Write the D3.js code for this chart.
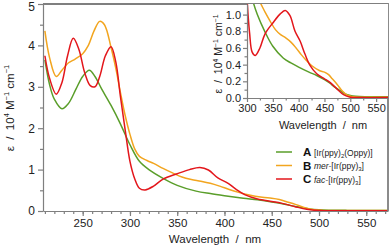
<!DOCTYPE html>
<html>
<head>
<meta charset="utf-8">
<script src="https://cdn.jsdelivr.net/npm/d3@7"></script>
<style>
  body { margin: 0; background: #fff; }
  svg { display: block; font-family: "Liberation Sans", Arial, sans-serif; }
  .frame { stroke: #7f7f7f; stroke-width: 1.8; fill: none; }
  .axis path, .axis line { stroke: #7f7f7f; stroke-width: 1.2; }
  .axis text { fill: #222; font-size: 11px; font-family: "Liberation Sans", Arial, sans-serif; }
  .curve { fill: none; stroke-width: 1.5; }
</style>
</head>
<body>
<script>
// wavelengths (nm) and molar absorptivity (10^4 M^-1 cm^-1)
var wlA = [210, 215, 220, 228, 235, 243, 250, 257, 263, 270, 280, 290, 300, 310, 320, 335, 350, 370, 385, 400, 420, 435, 450, 460, 470, 480, 490, 500, 510, 530, 573];
var epsA = [3.65, 3.05, 2.7, 2.47, 2.6, 2.95, 3.25, 3.4, 3.25, 2.95, 2.55, 2.1, 1.6, 1.2, 1.0, 0.79, 0.62, 0.48, 0.42, 0.37, 0.31, 0.27, 0.22, 0.18, 0.13, 0.09, 0.05, 0.03, 0.02, 0.015, 0.015];

var wlB = [210, 215, 222, 228, 235, 242, 250, 256, 262, 268, 273, 280, 285, 290, 295, 300, 305, 310, 318, 325, 335, 345, 355, 365, 375, 385, 395, 405, 415, 425, 440, 450, 458, 465, 475, 485, 495, 505, 520, 573];
var epsB = [4.35, 3.7, 3.25, 3.4, 3.58, 3.67, 3.8, 4.0, 4.35, 4.58, 4.5, 3.95, 3.45, 2.85, 2.3, 1.85, 1.5, 1.32, 1.22, 1.15, 1.03, 0.92, 0.82, 0.76, 0.72, 0.67, 0.6, 0.52, 0.45, 0.39, 0.33, 0.31, 0.28, 0.23, 0.16, 0.08, 0.03, 0.015, 0.01, 0.01];

var wlC = [210, 215, 222, 228, 234, 240, 246, 252, 258, 263, 268, 274, 280, 285, 290, 295, 300, 305, 310, 316, 325, 335, 350, 363, 374, 383, 393, 403, 412, 422, 435, 450, 460, 474, 487, 500, 520, 573];
var epsC = [3.75, 3.2, 2.82, 3.1, 3.75, 4.17, 3.9, 3.35, 3.03, 3.0, 3.25, 3.75, 3.97, 3.6, 2.75, 1.95, 1.2, 0.78, 0.55, 0.51, 0.6, 0.77, 0.9, 1.0, 1.05, 0.99, 0.8, 0.68, 0.53, 0.39, 0.29, 0.23, 0.19, 0.11, 0.04, 0.01, 0.005, 0.005];

var seriesKeys = ["A", "B", "C"];
var seriesNames = ["[Ir(ppy)2(Oppy)]", "mer-[Ir(ppy)3]", "fac-[Ir(ppy)3]"];
var seriesColors = ["#5a9e2a", "#f2a51f", "#e3161b"];

var mainXTicks = [250, 300, 350, 400, 450, 500, 550];
var mainYTicks = [0, 1, 2, 3, 4, 5];
var insetXTicks = [300, 350, 400, 450, 500, 550];
var insetYTicks = [0, 0.2, 0.4, 0.6, 0.8, 1.0];

var width = 392, height = 248;
var nb = "\u00a0"; // keeps the wide spacing around "/"

var svg = d3.select("body").append("svg")
    .attr("width", width)
    .attr("height", height);

var series = [
  { wl: wlA, eps: epsA },
  { wl: wlB, eps: epsB },
  { wl: wlC, eps: epsC }
];

// main plot area
var main = { left: 43, right: 388, top: 4, bottom: 211 };
var x = d3.scaleLinear().domain([208, 573]).range([main.left, main.right]);
var y = d3.scaleLinear().domain([0, 5]).range([main.bottom, main.top]);

// inset area
var ins = { left: 247, right: 388, top: 4, bottom: 98 };
var xi = d3.scaleLinear().domain([300, 573]).range([ins.left, ins.right]);
var yi = d3.scaleLinear().domain([0, 1.127]).range([ins.bottom, ins.top]);

var defs = svg.append("defs");
defs.append("clipPath").attr("id", "clipMain").append("rect")
    .attr("x", main.left).attr("y", main.top)
    .attr("width", main.right - main.left).attr("height", main.bottom - main.top);
defs.append("clipPath").attr("id", "clipInset").append("rect")
    .attr("x", ins.left).attr("y", ins.top)
    .attr("width", ins.right - ins.left).attr("height", ins.bottom - ins.top);

function drawCurves(g, xs, ys, clip){
  var line = d3.line()
      .x(function(d){ return xs(d[0]); })
      .y(function(d){ return ys(d[1]); })
      .curve(d3.curveCatmullRom.alpha(0.5));
  g.append("g").attr("clip-path", "url(#" + clip + ")")
    .selectAll("path")
    .data(series)
    .enter()
    .append("path")
    .attr("class", "curve")
    .attr("stroke", function(d, i){ return seriesColors[i]; })
    .attr("d", function(d){ return line(d3.zip(d.wl, d.eps)); });
}

//----- main plot
drawCurves(svg, x, y, "clipMain");

// top and right border
svg.append("path").attr("class", "frame")
    .attr("d", "M" + main.left + "," + main.top + "H" + main.right + "V" + main.bottom);

var xMinor = svg.append("g").attr("class", "axis")
    .attr("transform", "translate(0," + main.bottom + ")")
    .call(d3.axisBottom(x).tickValues(d3.range(210, 573, 10)).tickSize(3).tickFormat(""));
xMinor.select(".domain").remove();
var xAxis = svg.append("g").attr("class", "axis")
    .attr("transform", "translate(0," + main.bottom + ")")
    .call(d3.axisBottom(x).tickValues(mainXTicks).tickSize(5).tickPadding(3).tickSizeOuter(0));
xAxis.select(".domain").attr("class", "domain frame");

var yMinor = svg.append("g").attr("class", "axis")
    .attr("transform", "translate(" + main.left + ",0)")
    .call(d3.axisLeft(y).tickValues(d3.range(0.5, 5, 1)).tickSize(3).tickFormat(""));
yMinor.select(".domain").remove();
var yAxis = svg.append("g").attr("class", "axis")
    .attr("transform", "translate(" + main.left + ",0)")
    .call(d3.axisLeft(y).tickValues(mainYTicks).tickSize(5).tickPadding(3).tickSizeOuter(0)
      .tickFormat(d3.format("d")));
yAxis.select(".domain").attr("class", "domain frame");
yAxis.selectAll("text").style("font-size", "12px")
    .attr("dy", function(d){ return d === 5 ? "0.5em" : "0.32em"; });
xAxis.selectAll("text").style("font-size", "11.5px");

//----- inset
svg.append("rect").attr("x", ins.left).attr("y", ins.top)
    .attr("width", ins.right - ins.left).attr("height", ins.bottom - ins.top)
    .attr("fill", "#fff");
drawCurves(svg, xi, yi, "clipInset");

var xiMinor = svg.append("g").attr("class", "axis")
    .attr("transform", "translate(0," + ins.bottom + ")")
    .call(d3.axisBottom(xi).tickValues(d3.range(325, 573, 50)).tickSize(2.5).tickFormat(""));
xiMinor.select(".domain").remove();
var xiAxis = svg.append("g").attr("class", "axis")
    .attr("transform", "translate(0," + ins.bottom + ")")
    .call(d3.axisBottom(xi).tickValues(insetXTicks).tickSize(4).tickPadding(2).tickSizeOuter(0));

var yiMinor = svg.append("g").attr("class", "axis")
    .attr("transform", "translate(" + ins.left + ",0)")
    .call(d3.axisLeft(yi).tickValues(d3.range(0.1, 1.1, 0.2)).tickSize(2.5).tickFormat(""));
yiMinor.select(".domain").remove();
var yiAxis = svg.append("g").attr("class", "axis")
    .attr("transform", "translate(" + ins.left + ",0)")
    .call(d3.axisLeft(yi).tickValues(insetYTicks).tickSize(4).tickPadding(2).tickSizeOuter(0)
      .tickFormat(d3.format(".1f")));

//----- axis titles
function epsLabel(g, fs){
  var t = g.append("text").attr("text-anchor", "middle").attr("fill", "#222")
      .style("font-size", fs + "px");
  var sup = Math.round(fs * 0.65 * 10) / 10;
  t.append("tspan").text("ε" + nb + nb + "/" + nb + nb + "10");
  t.append("tspan").attr("dy", -fs * 0.4).style("font-size", sup + "px").text("4");
  t.append("tspan").attr("dy", fs * 0.4).text(nb + "M");
  t.append("tspan").attr("dy", -fs * 0.4).style("font-size", sup + "px").text("−1");
  t.append("tspan").attr("dy", fs * 0.4).text(nb + "cm");
  t.append("tspan").attr("dy", -fs * 0.4).style("font-size", sup + "px").text("−1");
  return t;
}

epsLabel(svg.append("g").attr("transform", "translate(14,108) rotate(-90)"), 11.5);
epsLabel(svg.append("g").attr("transform", "translate(222,54) rotate(-90)"), 10.5);

svg.append("text").attr("x", 215).attr("y", 243).attr("text-anchor", "middle")
    .attr("fill", "#222").style("font-size", "11.5px")
    .text("Wavelength" + nb + nb + "/" + nb + nb + "nm");
svg.append("text").attr("x", 323).attr("y", 129).attr("text-anchor", "middle")
    .attr("fill", "#222").style("font-size", "11px")
    .text("Wavelength" + nb + nb + "/" + nb + nb + "nm");

//----- legend
var legend = svg.append("g").attr("transform", "translate(276,152)");
var rows = legend.selectAll("g").data(seriesKeys).enter().append("g")
    .attr("transform", function(d, i){ return "translate(0," + (i * 13.5) + ")"; });
rows.append("line").attr("x1", 0).attr("x2", 16).attr("y1", 0).attr("y2", 0)
    .attr("stroke", function(d, i){ return seriesColors[i]; }).attr("stroke-width", 1.5);
rows.append("text").attr("x", 27).attr("y", 4).attr("fill", "#111")
    .style("font-size", "11.5px").style("font-weight", "bold").text(function(d){ return d; });

function legendText(t, name){
  // italic isomer prefix, digits become subscripts
  var m = name.match(/^(mer-|fac-)/);
  var rest = name;
  if (m){
    t.append("tspan").style("font-style", "italic").text(m[1]);
    rest = name.slice(m[1].length);
  }
  var wasSub = false;
  rest.split(/(\d)/).forEach(function(p){
    if (p === "") return;
    if (/\d/.test(p)){
      t.append("tspan").attr("dy", 2).style("font-size", "6px").text(p);
      wasSub = true;
    } else {
      var s = t.append("tspan").text(p);
      if (wasSub) s.attr("dy", -2);
      wasSub = false;
    }
  });
}
rows.append("text").attr("x", 38).attr("y", 3.5).attr("fill", "#222")
    .style("font-size", "8.5px")
    .each(function(d, i){ legendText(d3.select(this), seriesNames[i]); });
</script>
</body>
</html>
